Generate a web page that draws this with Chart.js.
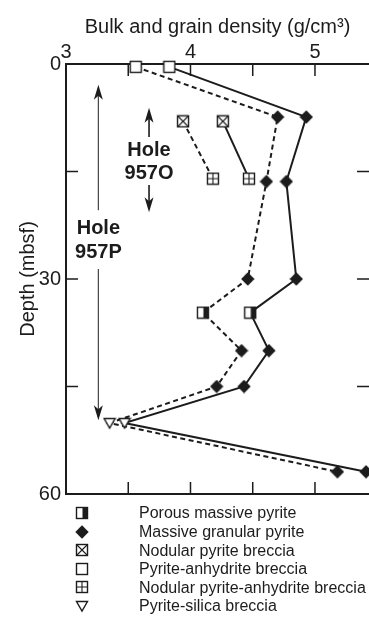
<!DOCTYPE html>
<html>
<head>
<meta charset="utf-8">
<script src="https://cdn.jsdelivr.net/npm/chart.js@4.4.1/dist/chart.umd.min.js"></script>
<style>
  html, body { margin: 0; padding: 0; background: #fff; }
  canvas { display: block; }
</style>
</head>
<body>
<canvas id="c" width="369" height="627"></canvas>
<script>
// ---------------- DATA ----------------
// Hole 957P (depth in mbsf)
const depth957P = [0.4, 7.4, 16.4, 30.0, 34.7, 40.0, 45.0, 50.1, 56.9];
const grain957P = [3.83, 4.93, 4.77, 4.85, 4.48, 4.63, 4.43, 3.47, 5.41];
const bulk957P  = [3.56, 4.70, 4.61, 4.46, 4.10, 4.41, 4.21, 3.35, 5.18];
const lith957P  = ['PA', 'MG', 'MG', 'MG', 'PM', 'MG', 'MG', 'PS', 'MG'];
// Hole 957O
const depth957O = [8.0, 16.0];
const grain957O = [4.26, 4.47];
const bulk957O  = [3.94, 4.18];
const lith957O  = ['NP', 'NPA'];
// Axis ticks
const xTickLabels = [3, 4, 5];
const xMinorTicks = [3.5, 4, 4.5, 5];
const yTickLabels = [0, 30, 60];
const yMinorTicks = [15, 30, 45];
// Legend
const legendKeys   = ['PM', 'MG', 'NP', 'PA', 'NPA', 'PS'];
const legendLabels = ['Porous massive pyrite', 'Massive granular pyrite', 'Nodular pyrite breccia',
                      'Pyrite-anhydrite breccia', 'Nodular pyrite-anhydrite breccia', 'Pyrite-silica breccia'];

// ---------------- STYLE ----------------
const INK = '#1c1c1c';
const FONT = "'Liberation Sans', Arial, Helvetica, sans-serif";

function makeMarker(kind) {
  const s = 14;
  const c = document.createElement('canvas');
  c.width = s; c.height = s;
  const g = c.getContext('2d');
  g.strokeStyle = INK; g.fillStyle = '#fff'; g.lineWidth = 1.4;
  const a = 1.5, b = 12.5;
  const box = () => { g.fillRect(a, a, b - a, b - a); g.strokeRect(a, a, b - a, b - a); };
  if (kind === 'MG') {
    g.fillStyle = INK;
    g.beginPath(); g.moveTo(7, 0.3); g.lineTo(13.7, 7); g.lineTo(7, 13.7); g.lineTo(0.3, 7); g.closePath(); g.fill();
  } else if (kind === 'PA') {
    box();
  } else if (kind === 'PM') {
    box(); g.fillStyle = INK; g.fillRect(7.5, a, b - 7.5, b - a);
  } else if (kind === 'NP') {
    box(); g.lineWidth = 1.1;
    g.beginPath(); g.moveTo(a, a); g.lineTo(b, b); g.moveTo(b, a); g.lineTo(a, b); g.stroke();
  } else if (kind === 'NPA') {
    box(); g.lineWidth = 1.1;
    g.beginPath(); g.moveTo(7, a); g.lineTo(7, b); g.moveTo(a, 7); g.lineTo(b, 7); g.stroke();
  } else if (kind === 'PS') {
    g.beginPath(); g.moveTo(1.5, 2.5); g.lineTo(12.5, 2.5); g.lineTo(7, 12); g.closePath(); g.fill(); g.stroke();
  }
  return c;
}
const markers = {};
['MG', 'PA', 'PM', 'NP', 'NPA', 'PS'].forEach(k => markers[k] = makeMarker(k));

function pts(xs, ys) { return xs.map((x, i) => ({ x: x, y: ys[i] })); }

function series(label, xs, ys, lith, dashed) {
  return {
    label: label,
    data: pts(xs, ys),
    showLine: true,
    borderColor: INK,
    borderWidth: 2,
    borderDash: dashed ? [5, 3.5] : [],
    pointStyle: lith.map(k => markers[k]),
    pointRadius: 6,
    pointHoverRadius: 6,
    tension: 0,
    clip: false,
    xAxisID: 'x',
    yAxisID: 'y'
  };
}

// ---------------- PLUGINS ----------------
const frameTicks = {
  id: 'frameTicks',
  afterDraw(chart) {
    const { ctx, chartArea: ca, scales } = chart;
    const L = 12;
    ctx.save();
    ctx.strokeStyle = INK; ctx.lineWidth = 1.5;
    ctx.beginPath();
    xMinorTicks.forEach(v => {
      const px = scales.x.getPixelForValue(v);
      ctx.moveTo(px, ca.top); ctx.lineTo(px, ca.top + L);
      ctx.moveTo(px, ca.bottom); ctx.lineTo(px, ca.bottom - L);
    });
    yMinorTicks.forEach(v => {
      const py = scales.y.getPixelForValue(v);
      ctx.moveTo(ca.left, py); ctx.lineTo(ca.left + L, py);
      ctx.moveTo(ca.right, py); ctx.lineTo(ca.right - L, py);
    });
    ctx.stroke();
    ctx.restore();
  }
};

function arrowHead(ctx, x, y, dir) {
  // dir: -1 pointing up, +1 pointing down
  ctx.beginPath();
  ctx.moveTo(x, y);
  ctx.lineTo(x - 4.5, y - dir * 15);
  ctx.lineTo(x, y - dir * 11);
  ctx.lineTo(x + 4.5, y - dir * 15);
  ctx.closePath();
  ctx.fill();
}

const holeLabels = {
  id: 'holeLabels',
  afterDatasetsDraw(chart) {
    const { ctx, scales } = chart;
    const X = v => scales.x.getPixelForValue(v);
    const Y = v => scales.y.getPixelForValue(v);
    ctx.save();
    ctx.fillStyle = INK; ctx.strokeStyle = INK;
    ctx.font = 'bold 20px ' + FONT;
    ctx.textAlign = 'center'; ctx.textBaseline = 'middle';

    // Hole 957O
    const xo = X(3.667);
    ctx.lineWidth = 1.6;
    ctx.beginPath(); ctx.moveTo(xo, Y(6.6)); ctx.lineTo(xo, Y(10.2)); ctx.stroke();
    arrowHead(ctx, xo, Y(6.1), -1);
    ctx.fillText('Hole', xo, Y(12.0));
    ctx.fillText('957O', xo, Y(15.3));
    ctx.beginPath(); ctx.moveTo(xo, Y(16.9)); ctx.lineTo(xo, Y(20.2)); ctx.stroke();
    arrowHead(ctx, xo, Y(20.7), 1);

    // Hole 957P
    const xp = X(3.26);
    ctx.lineWidth = 1.2;
    ctx.strokeStyle = '#444';
    ctx.beginPath(); ctx.moveTo(xp, Y(3.4)); ctx.lineTo(xp, Y(20.4)); ctx.stroke();
    ctx.beginPath(); ctx.moveTo(xp, Y(28.6)); ctx.lineTo(xp, Y(49.2)); ctx.stroke();
    arrowHead(ctx, xp, Y(2.9), -1);
    arrowHead(ctx, xp, Y(49.7), 1);
    ctx.fillText('Hole', xp, Y(23.0));
    ctx.fillText('957P', xp, Y(26.3));
    ctx.restore();
  }
};

const symbolLegend = {
  id: 'symbolLegend',
  afterDraw(chart) {
    const { ctx, chartArea: ca } = chart;
    ctx.save();
    ctx.fillStyle = INK;
    ctx.font = '16px ' + FONT;
    ctx.textAlign = 'left'; ctx.textBaseline = 'middle';
    legendKeys.forEach((k, i) => {
      const y = ca.bottom + 19 + i * 18.6;
      const m = markers[k];
      ctx.drawImage(m, Math.round(82 - m.width / 2), Math.round(y - m.height / 2));
      ctx.fillText(legendLabels[i], 139, y + 1);
    });
    ctx.restore();
  }
};

// ---------------- CHART ----------------
new Chart(document.getElementById('c'), {
  type: 'scatter',
  data: {
    datasets: [
      series('957P grain density', grain957P, depth957P, lith957P, false),
      series('957P bulk density', bulk957P, depth957P, lith957P, true),
      series('957O grain density', grain957O, depth957O, lith957O, false),
      series('957O bulk density', bulk957O, depth957O, lith957O, true)
    ]
  },
  options: {
    responsive: false,
    animation: false,
    devicePixelRatio: 1,
    layout: { autoPadding: false, padding: { left: 0, right: 0, top: 0, bottom: 133 } },
    plugins: { legend: { display: false }, tooltip: { enabled: false } },
    events: [],
    scales: {
      x: {
        type: 'linear', position: 'top', min: 3, max: 5.434,
        afterBuildTicks: s => { s.ticks = xTickLabels.map(v => ({ value: v })); },
        ticks: { color: INK, font: { family: FONT, size: 20 }, padding: 0 },
        grid: { display: false, drawTicks: false },
        border: { display: true, color: INK, width: 2 },
        title: { display: true, text: 'Bulk and grain density (g/cm³)', color: INK,
                 font: { family: FONT, size: 20 }, padding: { top: 15, bottom: 0 } },
        afterFit: s => { s.height = 64; }
      },
      x2: {
        type: 'linear', position: 'bottom', min: 3, max: 5.434,
        ticks: { display: false },
        grid: { display: false, drawTicks: false },
        border: { display: true, color: INK, width: 2 },
        afterFit: s => { s.height = 0; }
      },
      y: {
        type: 'linear', position: 'left', reverse: true, min: 0, max: 60,
        afterBuildTicks: s => { s.ticks = yTickLabels.map(v => ({ value: v })); },
        ticks: { color: INK, font: { family: FONT, size: 20 }, padding: 5 },
        grid: { display: false, drawTicks: false },
        border: { display: true, color: INK, width: 2 },
        title: { display: true, text: 'Depth (mbsf)', color: INK,
                 font: { family: FONT, size: 20 }, padding: { top: 16, bottom: 0 } },
        afterFit: s => { s.width = 66; }
      }
    }
  },
  plugins: [frameTicks, holeLabels, symbolLegend]
});
</script>
</body>
</html>
